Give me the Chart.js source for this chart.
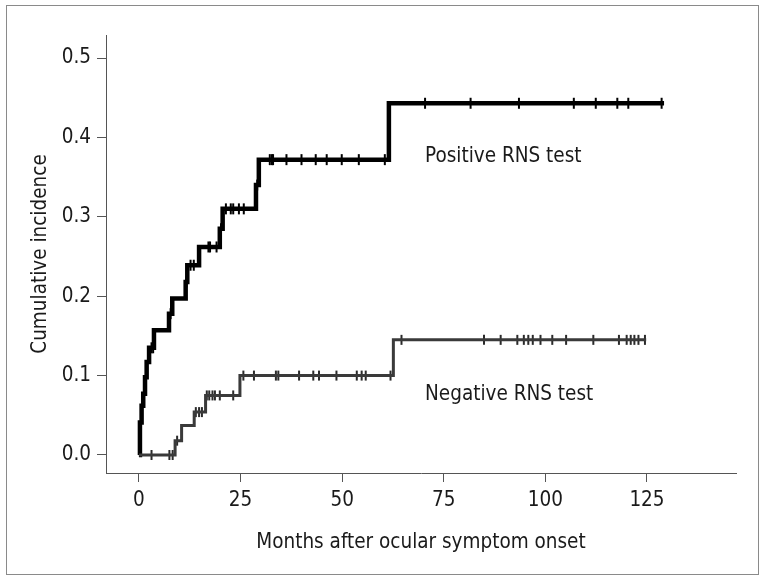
<!DOCTYPE html>
<html>
<head>
<meta charset="utf-8">
<script src="https://cdn.jsdelivr.net/npm/chart.js@4"></script>
<style>
    body { margin: 0; background: #fff; }
    #wrap { position: relative; width: 765px; height: 581px; }
    #frame { position: absolute; left: 6px; top: 5px; width: 751px; height: 568px; border: 1px solid #8a8a8a; }
    canvas { position: absolute; left: 0; top: 0; }
</style>
</head>
<body>
<div id="wrap">
    <div id="frame"></div>
    <canvas id="kmChart" width="765" height="581"></canvas>
</div>
<script>
// step points (month, cumulative incidence)
const posTimes = [0, 0.25, 0.66, 1.06, 1.5, 1.9, 2.5, 3.7, 7.4, 8.2, 11.5, 11.9, 14.8, 19.9, 20.6, 28.8, 29.5, 61.5, 129.2];
const posValues = [0, 0.041, 0.062, 0.077, 0.098, 0.117, 0.135, 0.157, 0.178, 0.197, 0.218, 0.239, 0.262, 0.285, 0.31, 0.34, 0.372, 0.443, 0.443];
const posCensored = [3.1, 3.5, 7.8, 11.7, 12.7, 13.5, 17.1, 17.5, 19.1, 20.2, 21.4, 22.6, 23.2, 24.6, 25.8, 29.1,
    32.2, 32.7, 33.0, 36.3, 40.0, 43.5, 46.2, 49.9, 54.1, 60.5, 70.4, 81.6, 93.5, 107.0, 112.4, 117.7, 120.4, 128.6];

const negTimes = [0, 8.9, 10.5, 13.6, 16.4, 24.85, 62.6, 124.8];
const negValues = [0, 0.018, 0.037, 0.054, 0.075, 0.1, 0.145, 0.145];
const negCensored = [3.1, 7.5, 8.3, 9.4, 14.0, 14.8, 15.5, 16.7, 17.3, 18.1, 18.7, 19.9, 23.2, 25.7, 28.3, 33.7, 34.3,
    39.4, 42.9, 44.3, 48.6, 53.6, 54.8, 55.8, 61.9, 64.6, 84.9, 89.0, 93.1, 94.7, 95.8, 96.9, 98.8, 101.7, 105.1,
    111.8, 118.1, 120.0, 121.0, 121.9, 122.9, 124.5];

const xTicks = [0, 25, 50, 75, 100, 125];
const yTicks = [0.0, 0.1, 0.2, 0.3, 0.4, 0.5];

const groupLabels = [
    {text: "Positive RNS test", x: 70.4, y: 0.369},
    {text: "Negative RNS test", x: 70.4, y: 0.069}
];

const FONT = "'DejaVu Sans Condensed', 'Liberation Sans Narrow', 'Liberation Sans', sans-serif";
const FSIZE = 20.5;

function stepLevel(times, values, t) {
    let level = values[0];
    for (let i = 0; i < times.length; i++) {
        if (times[i] <= t) level = values[i];
    }
    return level;
}

function toPoints(times, values) {
    return times.map((t, i) => ({x: t, y: values[i]}));
}

function censorPoints(list, times, values) {
    return list.map(t => ({x: t, y: stepLevel(times, values, t)}));
}

const groupText = {
    id: "groupText",
    afterDatasetsDraw(chart) {
        const ctx = chart.ctx;
        const xs = chart.scales.x, ys = chart.scales.y;
        ctx.save();
        ctx.fillStyle = "#1a1a1a";
        ctx.font = FSIZE + "px " + FONT;
        ctx.textBaseline = "alphabetic";
        groupLabels.forEach(l => {
            ctx.fillText(l.text, xs.getPixelForValue(l.x), ys.getPixelForValue(l.y));
        });
        ctx.restore();
    }
};

const axisColor = "#555";

new Chart(document.getElementById("kmChart"), {
    type: "scatter",
    data: {
        datasets: [
            {
                data: toPoints(negTimes, negValues),
                showLine: true,
                stepped: "before",
                borderColor: "#3a3a3a",
                borderWidth: 3,
                pointRadius: 0,
                borderJoinStyle: "miter"
            },
            {
                data: censorPoints(negCensored, negTimes, negValues),
                showLine: false,
                pointStyle: "line",
                rotation: 90,
                pointRadius: 5,
                borderWidth: 2,
                borderColor: "#2a2a2a"
            },
            {
                data: toPoints(posTimes, posValues),
                showLine: true,
                stepped: "before",
                borderColor: "#000",
                borderWidth: 4.5,
                pointRadius: 0,
                borderJoinStyle: "miter"
            },
            {
                data: censorPoints(posCensored, posTimes, posValues),
                showLine: false,
                pointStyle: "line",
                rotation: 90,
                pointRadius: 5.5,
                borderWidth: 2,
                borderColor: "#000"
            }
        ]
    },
    options: {
        responsive: false,
        animation: false,
        events: [],
        layout: {padding: {left: 0, top: 35, right: 29, bottom: 0}},
        plugins: {legend: {display: false}, tooltip: {enabled: false}},
        scales: {
            x: {
                type: "linear",
                min: -8.1,
                max: 146.9,
                afterBuildTicks: s => { s.ticks = xTicks.map(v => ({value: v})); },
                afterFit: s => { s.height = 108; },
                border: {color: axisColor, width: 1},
                grid: {display: true, drawOnChartArea: false, drawTicks: true, tickLength: 9, color: axisColor},
                ticks: {color: "#1a1a1a", font: {size: FSIZE, family: FONT}, padding: 6},
                title: {display: true, text: "Months after ocular symptom onset", color: "#1a1a1a",
                    font: {size: FSIZE, family: FONT}, padding: {top: 0, bottom: 26}}
            },
            y: {
                type: "linear",
                min: -0.0227,
                max: 0.529,
                afterBuildTicks: s => { s.ticks = yTicks.map(v => ({value: v})); },
                afterFit: s => { s.width = 106; },
                border: {color: axisColor, width: 1},
                grid: {display: true, drawOnChartArea: false, drawTicks: true, tickLength: 9, color: axisColor},
                ticks: {color: "#1a1a1a", font: {size: FSIZE, family: FONT}, padding: 6,
                    callback: v => v.toFixed(1)},
                title: {display: true, text: "Cumulative incidence", color: "#1a1a1a",
                    font: {size: FSIZE, family: FONT}, padding: {top: 28, bottom: 0}}
            }
        }
    },
    plugins: [groupText]
});
</script>
</body>
</html>
